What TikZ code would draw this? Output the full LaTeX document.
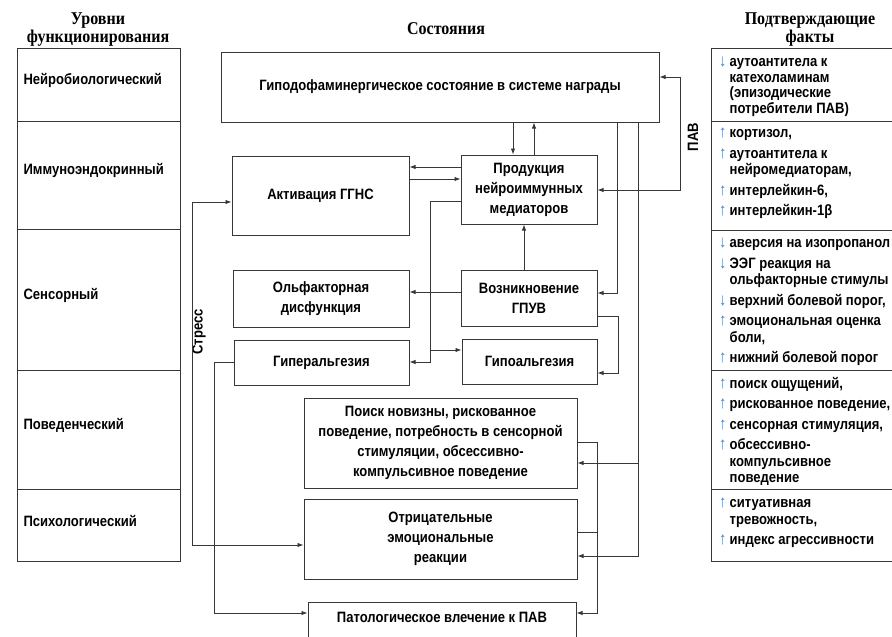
\documentclass[tikz,border=0pt]{standalone}
\usepackage{fontspec}
\setmainfont{Liberation Sans}[FakeStretch=0.87]
\newfontfamily\headfont{Liberation Serif}[FakeStretch=0.89]
\usepackage{xcolor}
\usetikzlibrary{arrows.meta, positioning}
\definecolor{linegray}{RGB}{55,55,55}
\definecolor{arrblue}{RGB}{70,130,190}
\tikzstyle{box} = [
    rectangle,
    draw=linegray,
    line width=1pt,
    fill=white,
    align=center,
    inner sep=2pt,
    font=\bfseries\fontsize{15}{20}\selectfont
]
\tikzstyle{plain} = [draw=linegray, line width=0.9pt]
\tikzstyle{link} = [plain, -{Latex[length=6pt,width=4.5pt]}]
\tikzstyle{both} = [plain, {Latex[length=6pt,width=4.5pt]}-{Latex[length=6pt,width=4.5pt]}]
\tikzstyle{head} = [align=center, inner sep=0pt, font=\headfont\bfseries\fontsize{18}{18}\selectfont]
\tikzstyle{level} = [anchor=west, font=\bfseries\fontsize{15}{16}\selectfont]
\tikzstyle{fact} = [anchor=north west, align=left, inner sep=0pt, font=\bfseries\fontsize{15}{16.5}\selectfont]
\tikzstyle{side} = [rotate=90, inner sep=0pt, font=\bfseries\fontsize{15}{16}\selectfont]
\newcommand{\arrup}{\makebox[10.5pt][l]{\textcolor{arrblue}{\mdseries\fontsize{17}{16.5}\selectfont ↑}}}
\newcommand{\arrdn}{\makebox[10.5pt][l]{\textcolor{arrblue}{\mdseries\fontsize{17}{16.5}\selectfont ↓}}}
\newcommand{\arrind}{\hspace*{10.5pt}}

\begin{document}
\begin{tikzpicture}[x=1pt, y=-1pt]
    \useasboundingbox (0,0) rectangle (892,637);
    \clip (0,0) rectangle (892,637);
    % Überschriften
    \node (hlevel) [head] at (98,30) {Уровни\\функционирования};
    \node (hstate) [head] at (446,29) {Состояния};
    \node (hfacts) [head] at (810,30) {Подтверждающие\\факты};
    % Ebenen links
    \draw [plain] (17,48) rectangle (180,561);
    \foreach \y in {121,229,370,489} \draw [plain] (17,\y) -- (180,\y);
    \node (lv1) [level] at (20,80) {Нейробиологический};
    \node (lv2) [level] at (20,170) {Иммуноэндокринный};
    \node (lv3) [level] at (20,295) {Сенсорный};
    \node (lv4) [level] at (20,425) {Поведенческий};
    \node (lv5) [level] at (20,521) {Психологический};
    % Fakten rechts
    \draw [plain] (711,48) rectangle (910,561);
    \foreach \y in {121,230,370,489} \draw [plain] (711,\y) -- (910,\y);
    \node (fact1) [fact, font=\bfseries\fontsize{15}{15.5}\selectfont] at (719,57)
        {\arrdn аутоантитела к\\ \arrind катехоламинам\\ \arrind (эпизодические\\ \arrind потребители ПАВ)};
    \node (fact2) [fact] at (719,128)
        {\arrup кортизол,\\[4pt] \arrup аутоантитела к\\ \arrind нейромедиаторам,\\[4pt] \arrup интерлейкин-6,\\[4pt] \arrup интерлейкин-1β};
    \node (fact3) [fact] at (719,238)
        {\arrdn аверсия на изопропанол\\[4pt] \arrdn ЭЭГ реакция на\\ \arrind ольфакторные стимулы\\[4pt] \arrdn верхний болевой порог,\\[4pt] \arrup эмоциональная оценка\\ \arrind боли,\\[4pt] \arrup нижний болевой порог};
    \node (fact4) [fact] at (719,377)
        {\arrup поиск ощущений,\\[4pt] \arrup рискованное поведение,\\[4pt] \arrup сенсорная стимуляция,\\[4pt] \arrup обсессивно-\\ \arrind компульсивное\\ \arrind поведение};
    \node (fact5) [fact] at (719,498)
        {\arrup ситуативная\\ \arrind тревожность,\\[4pt] \arrup индекс агрессивности};
    % Kästen Zustände
    \node (dopa) [box, minimum width=438pt, minimum height=70pt] at (440,87) {Гиподофаминергическое состояние в системе награды};
    \node (ggns) [box, minimum width=177pt, minimum height=79pt] at (320.5,195.5) {Активация ГГНС};
    \node (prod) [box, minimum width=136pt, minimum height=69pt] at (529,189.5) {Продукция\\нейроиммунных\\медиаторов};
    \node (olf) [box, minimum width=176pt, minimum height=57pt] at (321,298.5) {Ольфакторная\\дисфункция};
    \node (gpuv) [box, minimum width=136pt, minimum height=56pt] at (529,298) {Возникновение\\ГПУВ};
    \node (hyper) [box, minimum width=175pt, minimum height=45pt] at (321.5,362.5) {Гиперальгезия};
    \node (hypoalg) [box, minimum width=135pt, minimum height=45pt] at (529.5,361.5) {Гипоальгезия};
    \node (poisk) [box, minimum width=273pt, minimum height=90pt] at (440.5,443) {Поиск новизны, рискованное\\поведение, потребность в сенсорной\\стимуляции, обсессивно-\\компульсивное поведение};
    \node (emo) [box, minimum width=273pt, minimum height=80pt] at (440.5,539) {Отрицательные\\эмоциональные\\реакции};
    \node (pav) [box, minimum width=268pt, anchor=north, inner ysep=0pt, text height=20pt, text depth=18pt] at (442,602) {Патологическое влечение к ПАВ};
    % Beschriftungen
    \node (pavlabel) [side] at (693,137) {ПАВ};
    \node (stress) [side] at (199,332) {Стресс};
    % Pfeile
    \draw [link] (513,0 |- dopa.south) -- (513,0 |- prod.north);
    \draw [link] (534,0 |- prod.north) -- (534,0 |- dopa.south);
    \draw [both] (dopa.east |- 0,77) -- (680,77) -- (680,190) -- (prod.east |- 0,190);
    \draw [link] (prod.west |- 0,167) -- (ggns.east |- 0,167);
    \draw [link] (ggns.east |- 0,179) -- (prod.west |- 0,179);
    \draw [link] (prod.west |- 0,201) -| (430,362) -- (hyper.east |- 0,362);
    \draw [link] (430,350) -- (hypoalg.west |- 0,350);
    \draw [link] (gpuv.west |- 0,292) -- (olf.east |- 0,292);
    \draw [link] (524,0 |- gpuv.north) -- (524,0 |- prod.south);
    \draw [link] (617,0 |- dopa.south) |- (gpuv.east |- 0,293);
    \draw [link] (gpuv.east |- 0,316) -| (618,373) -- (hypoalg.east |- 0,373);
    \draw [link] (638,0 |- dopa.south) |- (emo.east |- 0,556);
    \draw [link] (638,463) -- (poisk.east |- 0,463);
    \draw [both] (ggns.west |- 0,202) -| (192,545) -- (emo.west |- 0,545);
    \draw [link] (hyper.west |- 0,362) -| (214,613) -- (pav.west |- 0,613);
    \draw [link] (poisk.east |- 0,442) -| (597,613) -- (pav.east |- 0,613);
    \draw [plain] (emo.east |- 0,532) -- (597,532);
\end{tikzpicture}
\end{document}
